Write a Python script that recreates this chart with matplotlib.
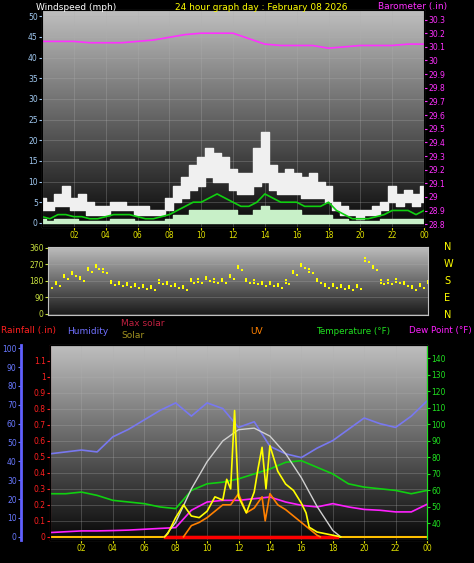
import numpy as np
import matplotlib
matplotlib.use("Agg")
import matplotlib.pyplot as plt

W, H = 474, 563
hh = np.arange(0, 24.01, 0.5)      # half-hour times
hr = np.arange(0, 25)              # hourly times

gust_hi = [6,5,7,9,6,7,5,4,4,5,5,4,4,4,3,3,6,9,11,14,16,18,17,16,13,12,12,18,22,14,12,13,12,11,12,10,9,5,4,3,3,3,4,5,9,7,8,7,9]
gust_lo = [3,3,4,4,3,3,2,2,2,3,3,3,2,2,2,2,3,5,6,8,9,11,10,10,8,7,7,9,10,8,7,7,7,6,6,6,5,3,2,2,1,2,2,3,5,4,5,4,5]
wind_avg = [1.5,1,2,2,1.5,1.5,1,1,1.5,2,2,2,1.5,1,1,1.5,2,3,4,5,5,6,7,6,5,4,4,5,7,6,5,5,5,4,4,4,5,3,2,1,1,1,1.5,2,3,3,3,2,3]
wind_lull = [1,0.5,1,1,1,0.5,0.5,0.5,0.5,1,1,1,0.5,0.5,0.5,0.5,1,2,2,3,3,3,3,3,3,2,2,3,4,3,3,3,3,2,2,2,2,1,1,0.5,0.5,0.5,0.5,1,1,1,1,1,1]
baro = [30.14,30.14,30.14,30.13,30.13,30.13,30.14,30.15,30.17,30.19,30.20,30.20,30.20,30.16,30.12,30.11,30.11,30.11,30.09,30.10,30.11,30.11,30.11,30.12,30.12]
wdir = [150,160,200,215,190,240,255,230,165,160,155,150,145,140,170,160,150,140,180,175,190,175,180,200,250,180,170,160,160,150,170,220,260,230,180,150,150,145,140,145,290,250,170,170,175,160,140,150,165]
humidity = [44,45,46,45,53,57,62,67,71,64,71,68,58,61,48,44,42,47,51,57,63,60,58,64,72]
temperature = [58,58,59,57,54,53,52,50,49,60,64,65,67,70,73,77,78,74,70,64,62,61,60,58,60]
dewpoint = [34.5,35,35.5,35.5,35.7,36,36.5,37,37.5,48,53,54,54,55,56,53,51,50,52,50,48.5,48,47,47,51.6]
solar_t = [7.3,7.5,8,8.5,9,9.5,10,10.5,11,11.25,11.5,11.75,12,12.5,13,13.25,13.5,13.75,14,14.5,15,15.5,16,16.3,16.5,17,17.5,18,18.5]
solar = [0,20,120,200,130,120,160,250,230,360,300,790,250,150,280,430,560,300,570,410,330,290,210,150,60,30,20,10,0]
uv_t = [8.5,9,9.5,10,10.5,11,11.5,12,12.5,13,13.5,13.7,14,14.5,15,15.5,16,16.5,17,17.2]
uv = [0,70,90,120,160,200,200,270,150,180,250,100,270,200,170,130,90,50,10,0]
maxsol_t = [7.3,8,9,10,11,12,13,14,15,16,17,18,18.5]
maxsol = [0,90,300,470,600,670,680,630,520,370,190,40,0]
rain_period = [7.3, 18.3]

xt = [2,4,6,8,10,12,14,16,18,20,22,24]
xtl = ["02","04","06","08","10","12","14","16","18","20","22","00"]

fig = plt.figure(figsize=(W/100, H/100), dpi=100, facecolor="black")
plt.rcParams['font.family'] = ['DejaVu Sans']

def ax_px(l, t, r, b):
    return fig.add_axes([l/W, 1-b/H, (r-l)/W, (b-t)/H])

def bg(ax, top=0.75, bot=0.03):
    g = np.linspace(top, bot, 200).reshape(-1, 1)
    ax.imshow(np.dstack([g, g, g]), aspect="auto", extent=[0, 1, 0, 1],
              transform=ax.transAxes, zorder=0)

def style(ax):
    ax.set_facecolor("black")
    for s in ax.spines.values():
        s.set_color("#c0c0c0")
    ax.tick_params(labelsize=5.5, length=2, pad=1)

# ---- top panel
ax = ax_px(42, 10, 424, 227)
style(ax); bg(ax)
ax.set_xlim(0, 24); ax.set_ylim(-1, 51.5)
ax.set_yticks(range(0, 51, 5))
ax.tick_params(axis="y", colors="#a0c8f0")
ax.set_xticks(xt); ax.set_xticklabels(xtl)
ax.tick_params(axis="x", colors="#e0e000")
ax.grid(color="#b0b0b0", lw=0.5, alpha=0.4)
ax.fill_between(hh, gust_lo, gust_hi, step="mid", color="#f0f0f0", zorder=2)
ax.fill_between(hh, 0, wind_lull, step="mid", color="#c8f0c8", zorder=3)
ax.plot(hh, wind_avg, color="#10d010", lw=1.2, zorder=4)
ax2 = ax.twinx()
ax2.set_ylim(28.78, 30.37)
ax2.set_yticks(np.round(np.arange(28.8, 30.31, 0.1), 1))
ax2.set_yticklabels([f"{v:g}" for v in np.round(np.arange(28.8, 30.31, 0.1), 1)])
ax2.tick_params(colors="#ff30ff", labelsize=5.5, length=2, pad=1)
ax2.plot(hr, baro, color="#ff30ff", lw=1.2)
fig.text(36/W, 1-7/H, "Windspeed (mph)", color="white", fontsize=6.5, va="center")
fig.text(175/W, 1-7/H, "24 hour graph day : February 08 2026", color="#ffff00", fontsize=6.5, va="center")
fig.text(378/W, 1-7/H, "Barometer (.in)", color="#ff30ff", fontsize=6.5, va="center")

# ---- middle panel
axm = ax_px(48, 247, 428, 315)
style(axm); bg(axm, 0.75, 0.1)
axm.set_xlim(0, 24); axm.set_ylim(-8, 365)
axm.set_yticks([0, 90, 180, 270, 360])
axm.tick_params(axis="y", colors="#c8e040")
axm.set_xticks([]); axm.grid(axis="y", color="#b0b0b0", lw=0.5, alpha=0.4)
axm.plot(hh, wdir, "s", color="#ffff00", ms=1.8, mew=0)
axm.plot(hh, np.array(wdir) + 12, "s", color="#ffff00", ms=1.5, mew=0)
axm.plot(hh + 0.25, np.array(wdir) - 10, "s", color="#ffff00", ms=1.5, mew=0)
for lab, y in zip("NWSEN", [247, 264, 281, 298, 315]):
    fig.text(444/W, 1-y/H, lab, color="#ffff00", fontsize=7, va="center")

# ---- bottom panel
axb = ax_px(50, 345, 427, 540)
style(axb); bg(axb)
axb.set_xlim(0, 24); axb.set_ylim(-0.02, 1.2)
axb.set_yticks([0, .1, .2, .3, .4, .5, .6, .7, .8, .9, 1, 1.1])
axb.set_yticklabels(["0","0.1","0.2","0.3","0.4","0.5","0.6","0.7","0.8","0.9","1","1.1"])
axb.tick_params(axis="y", colors="#ff2020")
axb.set_xticks(xt); axb.set_xticklabels(xtl)
axb.tick_params(axis="x", colors="#e0e000")
axb.grid(color="#b0b0b0", lw=0.5, alpha=0.4)
axb.spines["left"].set_color("#ff3030")
axh = axb.twinx()
axh.spines["left"].set_position(("outward", 21)); axh.spines["left"].set_visible(True)
axh.spines["left"].set_color("#6060ff"); axh.spines["left"].set_linewidth(2)
axh.yaxis.set_ticks_position("left"); axh.yaxis.set_label_position("left")
axh.set_ylim(-1.7, 101.7)
axh.set_yticks(range(0, 101, 10))
axh.tick_params(colors="#6878ff", labelsize=5.5, length=2, pad=1)
axt = axb.twinx()
axt.set_ylim(30.0, 148)
axt.set_yticks(range(40, 141, 10))
axt.tick_params(colors="#20e020", labelsize=5.5, length=2, pad=1)
axt.spines["right"].set_color("#20e020")
axs = axb.twinx(); axs.set_ylim(-20, 1200); axs.axis("off")
axh.plot(hr, humidity, color="#7878f0", lw=1.2)
axt.plot(hr, temperature, color="#10d010", lw=1.2)
axt.plot(hr, dewpoint, color="#ff20ff", lw=1.2)
axs.plot(maxsol_t, maxsol, color="#d0d0d0", lw=1)
axs.plot(uv_t, uv, color="#ff8000", lw=1.2)
axs.plot(solar_t, solar, color="#ffff00", lw=1.2)
axb.plot([0, 24], [0, 0], color="#ffc000", lw=1.5)
axb.plot(rain_period, [0, 0], color="#ff0000", lw=2.5)
fig.text(1/W, 1-331/H, "Rainfall (.in)", color="#ff2020", fontsize=6.5, va="center")
fig.text(67/W, 1-331/H, "Humidity", color="#7070ff", fontsize=6.5, va="center")
fig.text(121/W, 1-324/H, "Max solar", color="#c02040", fontsize=6.5, va="center")
fig.text(121/W, 1-336/H, "Solar", color="#a09020", fontsize=6.5, va="center")
fig.text(250/W, 1-331/H, "UV", color="#ff8000", fontsize=6.5, va="center")
fig.text(316/W, 1-331/H, "Temperature (°F)", color="#20e020", fontsize=6.3, va="center")
fig.text(472/W, 1-331/H, "Dew Point (°F)", color="#ff20ff", fontsize=6.3, va="center", ha="right")

fig.savefig("out.png", dpi=100, facecolor="black")
